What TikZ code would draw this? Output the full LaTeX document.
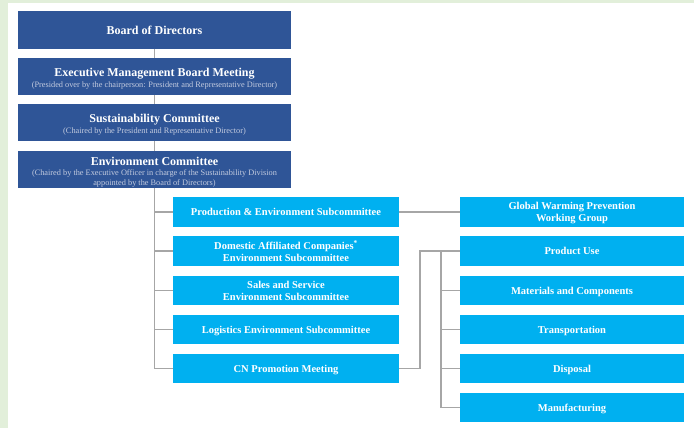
\documentclass[tikz,border=0pt]{standalone}
\usepackage{fontspec}
\setmainfont{Liberation Serif}
\definecolor{pagebg}{HTML}{E2EFDA}
\definecolor{boardblue}{HTML}{2F5597}
\definecolor{subblue}{HTML}{00B0F0}
\definecolor{linkgray}{HTML}{A6A6A6}
\definecolor{subtxt}{HTML}{C3CBDF}
\newcommand{\chairnote}{\fontsize{8.3}{10}\selectfont\mdseries\color{subtxt}}
\tikzset{
  topbox/.style={fill=boardblue, minimum width=273pt, inner sep=0pt, outer sep=0pt},
  toptext/.style={text=white, inner sep=0pt, align=center, font=\fontsize{12}{14}\selectfont\bfseries},
  unitbox/.style={fill=subblue, text=white, inner sep=0pt, outer sep=0pt, align=center, minimum height=29.5pt, text depth=0pt, font=\fontsize{10.5}{12}\selectfont\bfseries},
  leftunit/.style={unitbox, minimum width=226pt},
  rightunit/.style={unitbox, minimum width=224pt},
  link/.style={draw=linkgray, line width=1.5pt}
}
\begin{document}
\begin{tikzpicture}[x=1pt,y=-1pt]
  % page frame
  \fill[pagebg] (0,0) rectangle (694,428);
  \fill[white] (8,3) rectangle (694,428);
  \useasboundingbox (0,0) rectangle (694,428);

  % governing bodies
  \node[topbox, minimum height=38pt] (board) at (154.5,30) {};
  \node[toptext] (boardtext) at (board.center) {Board of Directors};
  \node[topbox, minimum height=37pt] (exec) at (154.5,76.5) {};
  \node[toptext] (exectext) at ([yshift=-2pt]exec.center)
    {Executive Management Board Meeting\\[-3pt]
     {\chairnote (Presided over by the chairperson: President and Representative Director)}};
  \node[topbox, minimum height=37pt] (sust) at (154.5,122.5) {};
  \node[toptext] (susttext) at ([yshift=-2.5pt]sust.center)
    {Sustainability Committee\\[-3pt]
     {\chairnote (Chaired by the President and Representative Director)}};
  \node[topbox, minimum height=37pt] (env) at (154.5,169.5) {};
  \node[toptext] (envtext) at ([yshift=-3.25pt]env.center)
    {Environment Committee\\[-4pt]
     {\chairnote\begin{tabular}[t]{@{}c@{}}(Chaired by the Executive Officer in charge of the Sustainability Division\\[0pt] appointed by the Board of Directors)\end{tabular}}};

  % subcommittees
  \node[leftunit] (prod) at (286,212) {Production \& Environment Subcommittee};
  \node[leftunit] (dom) at (286,251) {Domestic Affiliated Companies\textsuperscript{*}\\[0pt]Environment Subcommittee};
  \node[leftunit] (sales) at (286,290.5) {Sales and Service\\[0pt]Environment Subcommittee};
  \node[leftunit] (logi) at (286,329.5) {Logistics Environment Subcommittee};
  \node[leftunit] (cn) at (286,368.5) {CN Promotion Meeting};

  % working groups
  \node[rightunit] (gw) at (572,212) {Global Warming Prevention\\[0pt]Working Group};
  \node[rightunit] (use) at (572,251) {Product Use};
  \node[rightunit] (mat) at (572,290.5) {Materials and Components};
  \node[rightunit] (trans) at (572,329.5) {Transportation};
  \node[rightunit] (disp) at (572,368.5) {Disposal};
  \node[rightunit] (mfg) at (572,407.5) {Manufacturing};

  % reporting lines
  \draw[link] (board) -- (exec);
  \draw[link] (exec) -- (sust);
  \draw[link] (sust) -- (env);
  \draw[link] (env.south) |- (prod.west);
  \draw[link] (env.south) |- (dom.west);
  \draw[link] (env.south) |- (sales.west);
  \draw[link] (env.south) |- (logi.west);
  \draw[link] (env.south) |- (cn.west);

  \draw[link] (prod) -- (gw);
  \coordinate (cnturn) at (420,368.5);
  \draw[link] (cn.east) -- (cnturn) |- (use.west);
  \coordinate (bus) at (441,251);
  \draw[link] (bus) |- (mat.west);
  \draw[link] (bus) |- (trans.west);
  \draw[link] (bus) |- (disp.west);
  \draw[link] (bus) |- (mfg.west);
\end{tikzpicture}
\end{document}
